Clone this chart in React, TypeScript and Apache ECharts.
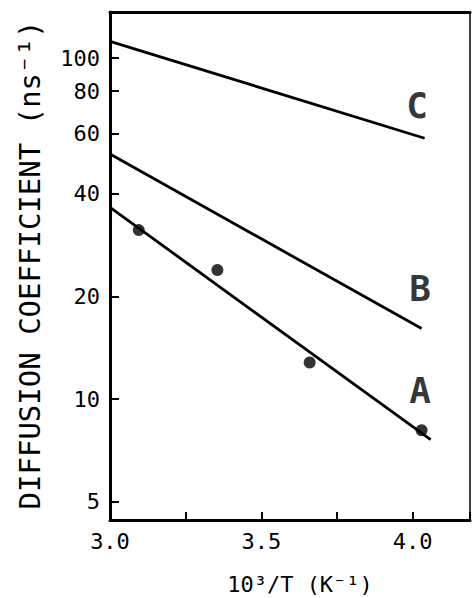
import React, { useEffect, useRef } from "react";
import * as echarts from "echarts";

const lineAX = [3.0, 4.06];
const lineAY = [36.5, 7.6];
const lineBX = [3.0, 4.03];
const lineBY = [52.3, 16.1];
const lineCX = [3.0, 4.04];
const lineCY = [112, 58.2];
const pointsX = [3.095, 3.355, 3.66, 4.03];
const pointsY = [31.3, 23.9, 12.8, 8.1];
const labelNames = ["A", "B", "C"];
const labelX = [4.025, 4.025, 4.015];
const labelY = [10.6, 21.1, 72.8];
const yTicks = [5, 10, 20, 40, 60, 80, 100];
const xLabels = ["3.0", "3.5", "4.0"];

const zip = (xs: number[], ys: number[]) => xs.map((x, i) => [x, ys[i]]);

export default function App() {
  const ref = useRef<HTMLDivElement>(null);
  useEffect(() => {
    if (!ref.current) return;
    const chart = echarts.init(ref.current, undefined, { renderer: "svg" });
    const font = "DejaVu Sans Mono";
    const lineStyle = { color: "#000", width: 2.8 };
    chart.setOption({
      animation: false,
      backgroundColor: "#fff",
      grid: { left: 110, top: 12, right: 2, bottom: 78, show: true, borderColor: "#000", borderWidth: 1.5 },
      xAxis: [
        {
          type: "value",
          min: 3.0,
          max: 4.19,
          interval: 0.25,
          axisLine: { show: true, lineStyle: { color: "#000", width: 3 } },
          axisTick: { show: true, inside: true, length: 8, lineStyle: { color: "#000", width: 2 } },
          splitLine: { show: false },
          axisLabel: {
            color: "#000",
            fontFamily: font,
            fontSize: 22,
            margin: 10,
            formatter: (v: number) => {
              const s = v.toFixed(1);
              return xLabels.includes(s) && Math.abs(v * 2 - Math.round(v * 2)) < 1e-6 ? s : "";
            },
          },
        },
        {
          type: "value",
          position: "top",
          min: 3.0,
          max: 4.19,
          axisLine: { show: true, lineStyle: { color: "#000", width: 3 } },
          axisTick: { show: false },
          axisLabel: { show: false },
          splitLine: { show: false },
        },
      ],
      yAxis: {
        type: "log",
        min: 4.42,
        max: 136.5,
        axisLine: { show: true, lineStyle: { color: "#000", width: 3 } },
        axisTick: { show: true, inside: true, length: 9, lineStyle: { color: "#000", width: 2 }, customValues: yTicks },
        minorTick: { show: false },
        splitLine: { show: false },
        axisLabel: {
          color: "#000",
          fontFamily: font,
          fontSize: 22,
          margin: 10,
          customValues: yTicks,
          formatter: (v: number) => String(v),
        },
      },
      series: [
        { type: "line", data: zip(lineAX, lineAY), symbol: "none", lineStyle },
        { type: "line", data: zip(lineBX, lineBY), symbol: "none", lineStyle },
        { type: "line", data: zip(lineCX, lineCY), symbol: "none", lineStyle },
        {
          type: "scatter",
          data: zip(pointsX, pointsY),
          symbol: "circle",
          symbolSize: 12,
          itemStyle: { color: "#000" },
        },
        {
          type: "scatter",
          data: labelNames.map((n, i) => ({ name: n, value: [labelX[i], labelY[i]] })),
          symbolSize: 0,
          label: {
            show: true,
            position: "inside",
            formatter: (p: any) => p.name,
            fontFamily: font,
            fontSize: 36,
            fontWeight: "bold",
            color: "#000",
          },
        },
      ],
      graphic: [
        {
          type: "text",
          x: 30,
          y: 265,
          rotation: Math.PI / 2,
          style: {
            text: "DIFFUSION COEFFICIENT (ns⁻¹)",
            fontFamily: font,
            fontSize: 29,
            fill: "#000",
            align: "center",
            verticalAlign: "middle",
          },
        },
        {
          type: "text",
          x: 300,
          y: 584,
          style: {
            text: "10³/T (K⁻¹)",
            fontFamily: font,
            fontSize: 22,
            fill: "#000",
            align: "center",
            verticalAlign: "middle",
          },
        },
      ],
    });
    return () => chart.dispose();
  }, []);
  return <div ref={ref} style={{ width: 473, height: 598, position: "absolute", left: 0, top: 0 }} />;
}
